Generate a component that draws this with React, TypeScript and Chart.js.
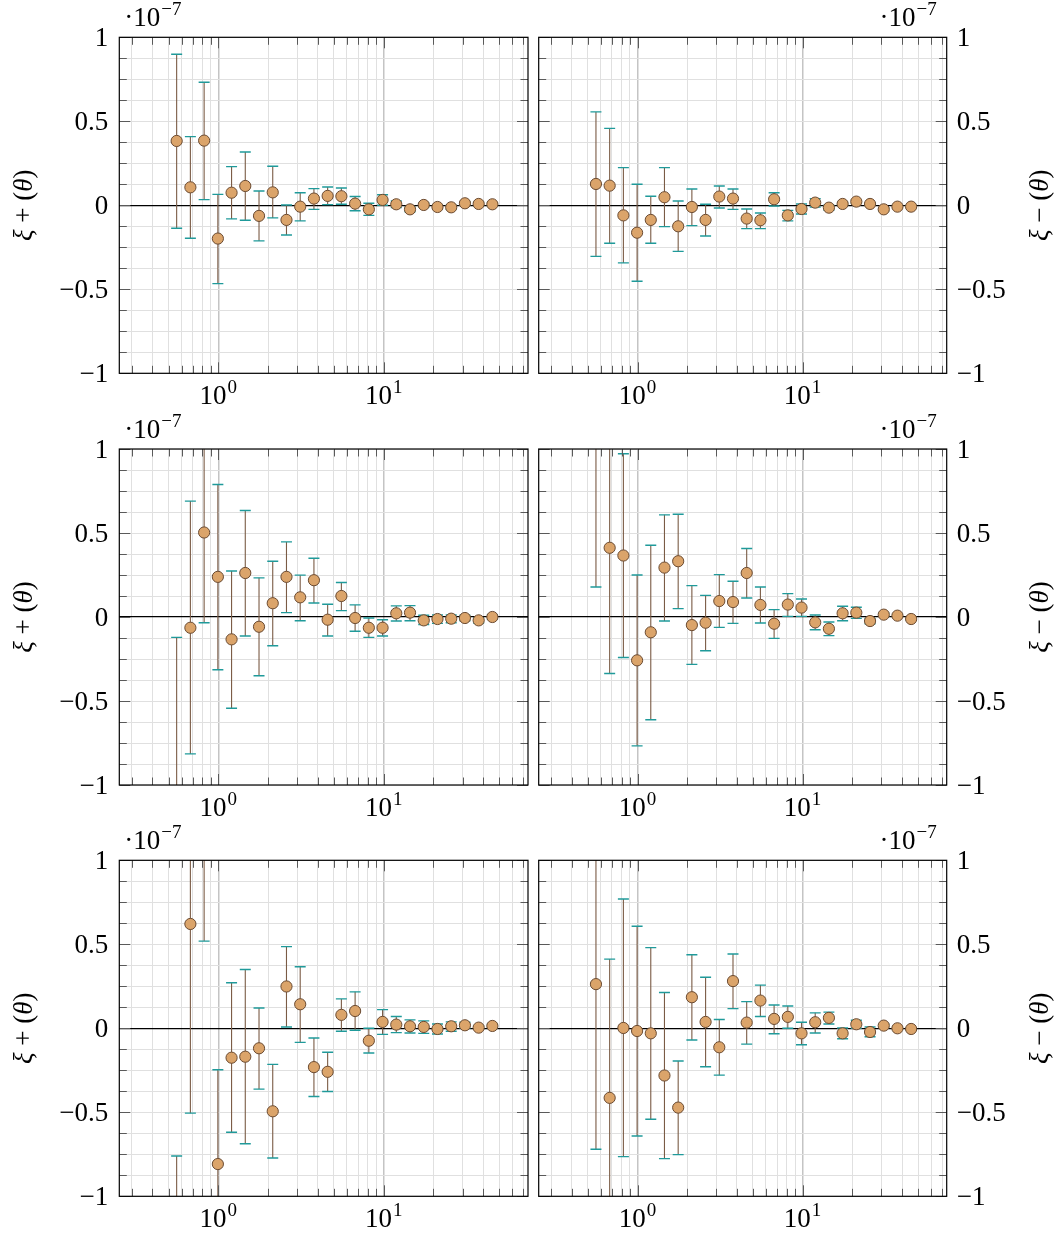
import React, { useEffect, useRef } from "react";
import { Chart, registerables } from "chart.js";

Chart.register(...registerables);

// ---------- data (values in units of 1e-7) ----------
const THETA = [0.560, 0.678, 0.821, 0.994, 1.203, 1.456, 1.763, 2.134, 2.584, 3.128, 3.787, 4.584, 5.550, 6.719, 8.134, 9.847, 11.92, 14.43, 17.47, 21.15, 25.61, 31.00, 37.53, 45.43];

// row 1, xi+
const XIP_1 = [0.383, 0.107, 0.385, -0.198, 0.075, 0.115, -0.063, 0.077, -0.087, -0.008, 0.040, 0.056, 0.054, 0.010, -0.024, 0.032, 0.006, -0.024, 0.002, -0.010, -0.012, 0.012, 0.008, 0.006];
const XIP_1_HI = [0.899, 0.409, 0.732, 0.065, 0.230, 0.317, 0.085, 0.232, 0.002, 0.075, 0.099, 0.109, 0.103, 0.052, 0.012, 0.063, 0.026, -0.010, 0.014, 0.002, 0.000, 0.022, 0.018, 0.015];
const XIP_1_LO = [-0.137, -0.196, 0.034, -0.466, -0.081, -0.089, -0.212, -0.075, -0.177, -0.093, -0.024, 0.004, 0.006, -0.032, -0.060, 0.000, -0.014, -0.038, -0.010, -0.022, -0.024, 0.002, -0.002, -0.003];

// row 1, xi-
const XIM_1 = [0.127, 0.117, -0.060, -0.163, -0.087, 0.048, -0.125, -0.010, -0.087, 0.052, 0.040, -0.079, -0.089, 0.036, -0.060, -0.022, 0.016, -0.014, 0.008, 0.022, 0.008, -0.024, -0.008, -0.008];
const XIM_1_HI = [0.556, 0.458, 0.224, 0.125, 0.054, 0.224, 0.026, 0.097, 0.006, 0.115, 0.097, -0.022, -0.046, 0.075, -0.030, 0.008, 0.040, 0.000, 0.018, 0.032, 0.016, -0.014, 0.000, 0.000];
const XIM_1_LO = [-0.304, -0.226, -0.343, -0.452, -0.226, -0.127, -0.274, -0.121, -0.183, -0.016, -0.024, -0.139, -0.139, -0.004, -0.093, -0.052, -0.010, -0.028, -0.002, 0.012, 0.000, -0.034, -0.016, -0.016];

// row 2, xi+
const XIP_2 = [-1.40, -0.064, 0.503, 0.239, -0.133, 0.262, -0.058, 0.082, 0.239, 0.117, 0.219, -0.016, 0.125, -0.006, -0.064, -0.064, 0.022, 0.026, -0.020, -0.012, -0.010, -0.006, -0.020, 0.000];
const XIP_2_HI = [-0.121, 0.690, 1.040, 0.789, 0.274, 0.634, 0.233, 0.332, 0.447, 0.249, 0.350, 0.076, 0.205, 0.072, -0.006, -0.016, 0.066, 0.068, 0.010, 0.012, 0.012, 0.010, -0.004, 0.014];
const XIP_2_LO = [-2.68, -0.815, -0.034, -0.314, -0.543, -0.113, -0.350, -0.171, 0.026, -0.022, 0.083, -0.113, 0.038, -0.085, -0.121, -0.113, -0.024, -0.022, -0.045, -0.038, -0.034, -0.022, -0.036, -0.014];

// row 2, xi-
const XIM_2 = [1.25, 0.412, 0.366, -0.258, -0.091, 0.294, 0.332, -0.048, -0.034, 0.095, 0.089, 0.262, 0.072, -0.040, 0.074, 0.056, -0.032, -0.070, 0.022, 0.026, -0.024, 0.014, 0.008, -0.012];
const XIM_2_HI = [2.32, 1.160, 0.972, 0.250, 0.427, 0.608, 0.612, 0.187, 0.129, 0.252, 0.213, 0.408, 0.179, 0.044, 0.139, 0.107, 0.012, -0.030, 0.064, 0.058, -0.008, 0.024, 0.016, -0.004];
const XIM_2_LO = [0.179, -0.336, -0.241, -0.767, -0.612, -0.024, 0.050, -0.282, -0.201, -0.062, -0.038, 0.113, -0.036, -0.127, 0.004, 0.004, -0.076, -0.111, -0.022, -0.008, -0.040, 0.004, 0.000, -0.020];

// row 3, xi+
const XIP_3 = [-1.30, 0.621, 1.15, -0.808, -0.175, -0.169, -0.119, -0.494, 0.249, 0.143, -0.231, -0.259, 0.080, 0.103, -0.074, 0.038, 0.022, 0.012, 0.008, -0.004, 0.012, 0.018, 0.004, 0.014];
const XIP_3_HI = [-0.760, 1.75, 1.78, -0.247, 0.271, 0.350, 0.121, -0.215, 0.486, 0.366, -0.058, -0.143, 0.175, 0.217, 0.000, 0.111, 0.070, 0.050, 0.044, 0.026, 0.038, 0.036, 0.014, 0.024];
const XIP_3_LO = [-1.84, -0.505, 0.519, -1.37, -0.619, -0.687, -0.362, -0.772, 0.008, -0.084, -0.406, -0.376, -0.018, -0.012, -0.147, -0.036, -0.026, -0.028, -0.030, -0.034, -0.018, 0.000, -0.006, 0.004];

// row 3, xi-
const XIM_3 = [0.263, -0.414, 0.002, -0.016, -0.030, -0.281, -0.472, 0.185, 0.038, -0.113, 0.281, 0.034, 0.165, 0.056, 0.068, -0.030, 0.036, 0.062, -0.030, 0.024, -0.022, 0.016, 0.000, -0.004];
const XIM_3_HI = [1.25, 0.412, 0.770, 0.607, 0.480, 0.213, -0.195, 0.438, 0.304, 0.052, 0.442, 0.159, 0.257, 0.139, 0.133, 0.036, 0.092, 0.096, 0.002, 0.048, 0.008, 0.026, 0.008, 0.004];
const XIM_3_LO = [-0.720, -1.24, -0.764, -0.641, -0.541, -0.776, -0.752, -0.070, -0.229, -0.279, 0.117, -0.094, 0.070, -0.032, 0.000, -0.098, -0.028, 0.026, -0.062, 0.000, -0.050, 0.006, -0.008, -0.012];

// ---------- axes ----------
const X_MIN = 0.252;
const X_MAX = 74.6;
const X_GRID = [0.3, 0.4, 0.5, 0.6, 0.7, 0.8, 0.9, 1, 2, 3, 4, 5, 6, 7, 8, 9, 10, 20, 30, 40, 50, 60, 70];
const X_MAJOR = [1, 10];
const X_MAJOR_EXP = ["0", "1"];
const Y_MIN = -1;
const Y_MAX = 1;
const Y_GRID = [-1, -0.875, -0.75, -0.625, -0.5, -0.375, -0.25, -0.125, 0, 0.125, 0.25, 0.375, 0.5, 0.625, 0.75, 0.875, 1];
const Y_MAJOR = [-1, -0.5, 0, 0.5, 1];
const Y_MAJOR_TEXT = ["\u22121", "\u22120.5", "0", "0.5", "1"];
const SCALE_EXP = "\u22127";

const W = 1064;
const H = 1234;
const COLS = [
  { left: 119.3, right: 528 },
  { left: 538.7, right: 946.7 },
];
const ROWS = [
  { top: 37.3, bottom: 373.3 },
  { top: 449, bottom: 785 },
  { top: 860.3, bottom: 1196.3 },
];

const PANELS = [
  { row: 0, col: 0, sign: "+", v: XIP_1, hi: XIP_1_HI, lo: XIP_1_LO },
  { row: 0, col: 1, sign: "\u2212", v: XIM_1, hi: XIM_1_HI, lo: XIM_1_LO },
  { row: 1, col: 0, sign: "+", v: XIP_2, hi: XIP_2_HI, lo: XIP_2_LO },
  { row: 1, col: 1, sign: "\u2212", v: XIM_2, hi: XIM_2_HI, lo: XIM_2_LO },
  { row: 2, col: 0, sign: "+", v: XIP_3, hi: XIP_3_HI, lo: XIP_3_LO },
  { row: 2, col: 1, sign: "\u2212", v: XIM_3, hi: XIM_3_HI, lo: XIM_3_LO },
];

const FONT = "'Liberation Serif', 'DejaVu Serif', serif";
const F_MAIN = `27px ${FONT}`;
const F_SUP = `19px ${FONT}`;
const F_ITAL = `italic 27px ${FONT}`;

const MARKER_FILL = "#dba46a";
const MARKER_EDGE = "#6a4a31";
const BAR_COLOR = "#7a5b45";
const CAP_COLOR = "#1f9a9a";

function makeDeco(panel: any) {
  return {
    id: "deco",
    beforeDatasetsDraw(chart: any) {
      const ctx = chart.ctx;
      const a = chart.chartArea;
      const xs = chart.scales.x;
      const ys = chart.scales.y;
      ctx.save();
      ctx.beginPath();
      ctx.rect(a.left, a.top, a.right - a.left, a.bottom - a.top);
      ctx.clip();
      for (let i = 0; i < THETA.length; i++) {
        const px = xs.getPixelForValue(THETA[i]);
        const yh = ys.getPixelForValue(panel.hi[i]);
        const yl = ys.getPixelForValue(panel.lo[i]);
        ctx.strokeStyle = BAR_COLOR;
        ctx.lineWidth = 1.1;
        ctx.beginPath();
        ctx.moveTo(px, yh);
        ctx.lineTo(px, yl);
        ctx.stroke();
        ctx.strokeStyle = CAP_COLOR;
        ctx.lineWidth = 1.4;
        ctx.beginPath();
        ctx.moveTo(px - 5.5, yh);
        ctx.lineTo(px + 5.5, yh);
        ctx.moveTo(px - 5.5, yl);
        ctx.lineTo(px + 5.5, yl);
        ctx.stroke();
      }
      ctx.restore();
    },
    afterDraw(chart: any) {
      const ctx = chart.ctx;
      const a = chart.chartArea;
      const xs = chart.scales.x;
      const ys = chart.scales.y;
      ctx.save();
      // tick marks (inside, on all sides)
      ctx.strokeStyle = "#5a5a5a";
      ctx.lineWidth = 1;
      ctx.beginPath();
      for (const v of X_GRID) {
        const px = Math.round(xs.getPixelForValue(v)) + 0.5;
        const len = X_MAJOR.includes(v) ? 11 : 7.5;
        ctx.moveTo(px, a.bottom);
        ctx.lineTo(px, a.bottom - len);
        ctx.moveTo(px, a.top);
        ctx.lineTo(px, a.top + len);
      }
      for (const v of Y_GRID) {
        const py = Math.round(ys.getPixelForValue(v)) + 0.5;
        const len = Y_MAJOR.includes(v) ? 11 : 7.5;
        ctx.moveTo(a.left, py);
        ctx.lineTo(a.left + len, py);
        ctx.moveTo(a.right, py);
        ctx.lineTo(a.right - len, py);
      }
      ctx.stroke();
      // frame
      ctx.strokeStyle = "#000";
      ctx.lineWidth = 1.2;
      ctx.strokeRect(a.left, a.top, a.right - a.left, a.bottom - a.top);

      ctx.fillStyle = "#000";
      ctx.textBaseline = "alphabetic";
      // x labels 10^n
      X_MAJOR.forEach((v, k) => {
        const px = xs.getPixelForValue(v);
        ctx.font = F_MAIN;
        const wb = ctx.measureText("10").width;
        ctx.font = F_SUP;
        const ws = ctx.measureText(X_MAJOR_EXP[k]).width;
        const x0 = px - (wb + ws + 1) / 2;
        const base = a.bottom + 31;
        ctx.font = F_MAIN;
        ctx.textAlign = "left";
        ctx.fillText("10", x0, base);
        ctx.font = F_SUP;
        ctx.fillText(X_MAJOR_EXP[k], x0 + wb + 1, base - 11);
      });
      // y labels
      Y_MAJOR.forEach((v, k) => {
        const py = ys.getPixelForValue(v);
        ctx.font = F_MAIN;
        if (panel.col === 0) {
          ctx.textAlign = "right";
          ctx.fillText(Y_MAJOR_TEXT[k], a.left - 11, py + 9);
        } else {
          ctx.textAlign = "left";
          ctx.fillText(Y_MAJOR_TEXT[k], a.right + 10, py + 9);
        }
      });
      // scale label  ·10^-7
      {
        ctx.font = F_MAIN;
        const wb = ctx.measureText("\u00b710").width;
        ctx.font = F_SUP;
        const ws = ctx.measureText(SCALE_EXP).width;
        const base = a.top - 11;
        const x0 = panel.col === 0 ? a.left + 5 : a.right - 10 - wb - ws - 1;
        ctx.textAlign = "left";
        ctx.font = F_MAIN;
        ctx.fillText("\u00b710", x0, base);
        ctx.font = F_SUP;
        ctx.fillText(SCALE_EXP, x0 + wb + 1, base - 11);
      }
      // axis title  ξ± (θ)
      {
        const segs = [
          { t: "\u03be", f: F_ITAL },
          { t: " " + panel.sign + " ", f: F_MAIN },
          { t: "(", f: F_MAIN },
          { t: "\u03b8", f: F_ITAL },
          { t: ")", f: F_MAIN },
        ];
        let total = 0;
        const widths = segs.map((s) => {
          ctx.font = s.f;
          const w = ctx.measureText(s.t).width;
          total += w;
          return w;
        });
        const cx = panel.col === 0 ? 25 : 1041;
        const cy = (a.top + a.bottom) / 2;
        ctx.translate(cx, cy);
        ctx.rotate(-Math.PI / 2);
        ctx.textAlign = "left";
        let x = -total / 2;
        segs.forEach((s, k) => {
          ctx.font = s.f;
          ctx.fillText(s.t, x, 6.5);
          x += widths[k];
        });
      }
      ctx.restore();
    },
  };
}

function Panel({ panel }: { panel: any }) {
  const ref = useRef<HTMLCanvasElement | null>(null);
  useEffect(() => {
    const canvas = ref.current;
    if (!canvas) return;
    const c = COLS[panel.col];
    const r = ROWS[panel.row];
    const chart = new Chart(canvas, {
      type: "scatter",
      data: {
        datasets: [
          {
            data: THETA.map((x, i) => ({ x, y: panel.v[i] })),
            pointRadius: 5.6,
            pointBackgroundColor: MARKER_FILL,
            pointBorderColor: MARKER_EDGE,
            pointBorderWidth: 1,
            showLine: false,
            clip: 0,
          } as any,
        ],
      },
      options: {
        responsive: false,
        animation: false,
        events: [],
        layout: {
          padding: { left: c.left, right: W - c.right, top: r.top, bottom: H - r.bottom },
        },
        plugins: { legend: { display: false }, tooltip: { enabled: false } },
        scales: {
          x: {
            type: "logarithmic",
            min: X_MIN,
            max: X_MAX,
            border: { display: false },
            ticks: { display: false },
            grid: {
              drawTicks: false,
              color: (ctx: any) => (ctx.tick && X_MAJOR.includes(ctx.tick.value) ? "#c4c4c4" : "#e0e0e0"),
              lineWidth: (ctx: any) => (ctx.tick && X_MAJOR.includes(ctx.tick.value) ? 1.5 : 1),
            },
            afterBuildTicks: (s: any) => {
              s.ticks = X_GRID.map((v) => ({ value: v, major: X_MAJOR.includes(v) }));
            },
            afterFit: (s: any) => {
              s.height = 0;
            },
          },
          y: {
            type: "linear",
            min: Y_MIN,
            max: Y_MAX,
            border: { display: false },
            ticks: { display: false },
            grid: {
              drawTicks: false,
              color: (ctx: any) => (ctx.tick && ctx.tick.value === 0 ? "#000000" : "#e0e0e0"),
              lineWidth: (ctx: any) => (ctx.tick && ctx.tick.value === 0 ? 1.2 : 1),
            },
            afterBuildTicks: (s: any) => {
              s.ticks = Y_GRID.map((v) => ({ value: v }));
            },
            afterFit: (s: any) => {
              s.width = 0;
            },
          },
        },
      } as any,
      plugins: [makeDeco(panel)],
    });
    return () => chart.destroy();
  }, [panel]);
  return (
    <canvas
      ref={ref}
      width={W}
      height={H}
      style={{ position: "absolute", left: 0, top: 0, width: W, height: H }}
    />
  );
}

export default function App() {
  return (
    <div style={{ position: "absolute", left: 0, top: 0, width: W, height: H, background: "#fff", overflow: "hidden" }}>
      {PANELS.map((p, i) => (
        <Panel key={i} panel={p} />
      ))}
    </div>
  );
}
